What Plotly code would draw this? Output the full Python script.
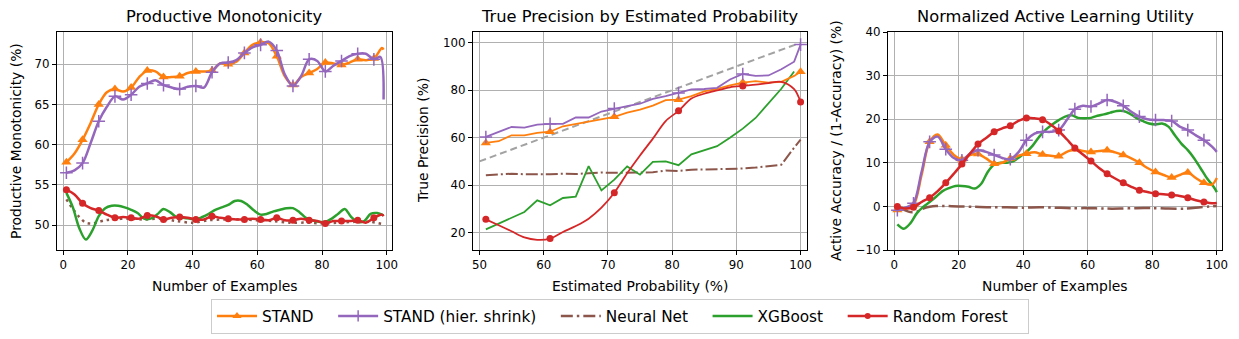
import plotly.graph_objects as go
from plotly.subplots import make_subplots

# %%
# Panel 1 - Productive Monotonicity
pm_x = [1, 3.5, 6, 8.5, 11, 13.5, 16, 18.5, 21, 23.5, 26, 28.5, 31, 33.5, 36, 38.5, 41, 43.5, 46, 48.5,
        51, 53.5, 56, 58.5, 61, 63.5, 66, 68.5, 71, 73.5, 76, 78.5, 81, 83.5, 86, 88.5, 91, 93.5, 96, 98.5, 99]
pm_stand = [57.8, 58.9, 60.6, 62.7, 65.0, 66.5, 66.9, 66.6, 67.1, 68.4, 69.2, 69.1, 68.4, 68.4, 68.5, 68.9, 69.1, 69.1, 69.2, 70.1,
            70.0, 70.3, 71.4, 72.4, 72.7, 72.6, 71.0, 68.5, 67.4, 68.4, 68.9, 69.4, 70.2, 70.1, 69.9, 70.2, 70.6, 70.5, 70.7, 72.0, 71.8]
pm_hier_x = [1, 3.5, 6, 8.5, 11, 13.5, 16, 18.5, 21, 23.5, 26, 28.5, 31, 33.5, 36, 38.5, 41, 43.5, 46, 48.5,
             51, 53.5, 56, 58.5, 61, 63.5, 66, 68.5, 71, 73.5, 76, 78.5, 81, 83.5, 86, 88.5, 91, 93.5, 96, 98, 99]
pm_hier = [56.5, 56.8, 57.7, 60.2, 62.9, 64.7, 66.0, 65.6, 66.2, 67.2, 67.6, 68.0, 67.4, 67.1, 66.9, 67.2, 67.3, 67.1, 69.0, 70.1,
           70.2, 70.5, 71.4, 72.1, 72.4, 72.8, 71.7, 68.7, 67.3, 68.5, 70.6, 70.4, 69.1, 69.8, 70.4, 71.0, 71.3, 71.3, 70.6, 70.9, 65.6]
pm_rf = [54.4, 53.8, 52.7, 52.1, 51.8, 51.3, 50.9, 51.0, 50.9, 50.8, 51.2, 51.1, 50.7, 50.9, 51.0, 50.9, 50.7, 50.7, 51.1, 50.9,
         50.8, 50.7, 50.7, 50.8, 50.7, 50.6, 50.9, 50.6, 50.6, 50.8, 50.6, 50.5, 50.2, 50.5, 50.5, 50.5, 50.6, 50.3, 50.9, 51.3, 51.1]
pm_xgb_x = [1, 3, 5, 7, 9, 11, 13, 15, 17, 19, 21, 23, 25, 27, 29, 31, 33, 35, 37, 39, 41, 43, 45, 47, 49,
            51, 53, 55, 57, 59, 61, 63, 65, 67, 69, 71, 73, 75, 77, 79, 81, 83, 85, 87, 89, 91, 93, 95, 97, 99]
pm_xgb = [54.0, 52.2, 49.6, 48.2, 49.3, 51.1, 52.1, 52.4, 52.4, 52.2, 51.9, 51.5, 50.8, 50.8, 51.3, 52.0, 51.6, 51.0, 50.9, 50.8,
          50.7, 51.0, 51.4, 51.9, 52.2, 52.5, 53.0, 53.0, 52.5, 51.8, 51.3, 51.4, 51.7, 51.9, 52.1, 52.1, 51.6, 50.9, 50.6, 50.4,
          50.4, 50.8, 51.4, 52.0, 51.0, 50.4, 50.5, 51.4, 51.5, 51.2]
pm_nn_x = [1, 3, 5, 7, 9, 11, 13, 15, 20, 25, 30, 35, 40, 45, 50, 55, 60, 65, 70, 75, 80, 85, 90, 95, 99]
pm_nn = [53.2, 52.0, 51.0, 50.3, 50.2, 50.4, 50.6, 50.7, 50.8, 50.7, 50.8, 50.5, 50.3, 50.6, 50.7, 50.7, 50.6, 50.5, 50.3, 50.3,
         50.2, 50.3, 50.4, 50.4, 50.1]
pm_chance = 50

# Panel 2 - True Precision by Estimated Probability
tp_x = [51, 53, 55, 57, 59, 61, 63, 65, 67, 69, 71, 73, 75, 77, 79, 81, 83, 85, 87, 89, 91, 93, 95, 97, 99, 100]
tp_stand = [57.8, 58.5, 61.0, 61.0, 62.0, 62.5, 64.8, 65.8, 67.0, 67.8, 68.8, 70.5, 71.8, 73.5, 75.8, 76.0, 77.5, 79.5, 80.5,
            82.0, 83.2, 83.8, 83.2, 83.5, 86.0, 87.8]
tp_hier = [60.3, 62.5, 64.5, 64.2, 65.5, 65.8, 65.8, 68.5, 68.5, 71.0, 72.3, 73.3, 74.3, 76.3, 77.5, 78.8, 80.3, 80.5, 81.0,
           84.5, 86.8, 86.0, 86.2, 88.8, 92.0, 99.2]
tp_rf = [25.6, 23.1, 20.6, 18.0, 17.0, 17.5, 20.3, 22.8, 25.9, 30.5, 36.8, 45.0, 52.5, 59.6, 67.0, 71.3, 76.5, 78.5, 79.9,
         81.2, 81.8, 82.3, 83.0, 83.5, 80.4, 75.0]
tp_xgb_x = [51, 53, 55, 57, 59, 61, 63, 65, 67, 69, 71, 73, 75, 77, 79, 81, 83, 85, 87, 89, 91, 93, 95, 97, 99]
tp_xgb = [21.4, 23.8, 26.3, 28.7, 33.6, 31.5, 34.6, 35.2, 48.0, 37.8, 42.3, 47.9, 44.4, 49.8, 50.0, 48.4, 53.0, 54.7, 56.4,
          60.0, 63.8, 68.3, 74.3, 80.6, 87.9]
tp_nn = [44.2, 44.5, 44.8, 44.6, 44.5, 44.6, 44.8, 44.7, 45.0, 45.3, 45.2, 45.3, 45.2, 45.4, 46.2, 46.0, 46.5, 46.6, 46.6,
         46.8, 47.0, 47.4, 48.0, 48.6, 55.8, 59.2]
tp_ideal_x = [50, 100]
tp_ideal_y = [50, 100]

# Panel 3 - Normalized Active Learning Utility
al_x = [1, 3.5, 6, 8.5, 11, 13.5, 16, 18.5, 21, 23.5, 26, 28.5, 31, 33.5, 36, 38.5, 41, 43.5, 46, 48.5,
        51, 53.5, 56, 58.5, 61, 63.5, 66, 68.5, 71, 73.5, 76, 78.5, 81, 83.5, 86, 88.5, 91, 93.5, 96, 98.5, 100]
al_stand = [-0.8, -0.5, 0.3, 7.2, 14.8, 16.5, 14.0, 11.8, 10.8, 11.8, 12.0, 11.0, 9.8, 10.0, 11.0, 11.6, 12.1, 12.4, 11.9, 11.6,
            11.5, 12.5, 13.1, 12.7, 12.5, 12.7, 12.9, 12.4, 11.8, 11.0, 10.0, 8.8, 7.9, 7.2, 6.6, 7.2, 7.8, 6.5, 5.4, 5.0, 6.5]
al_hier = [-0.9, -0.3, 0.7, 7.9, 14.8, 16.0, 13.1, 11.1, 10.6, 12.1, 12.9, 12.5, 11.8, 11.1, 10.8, 12.4, 15.2, 16.7, 17.1, 17.1,
           17.5, 19.8, 22.3, 23.1, 22.9, 23.6, 24.4, 24.0, 23.1, 21.7, 20.6, 20.0, 19.8, 19.8, 19.6, 18.3, 17.5, 16.3, 15.2, 13.7, 12.5]
al_rf = [0.0, -0.5, -0.2, 1.0, 2.0, 3.5, 5.4, 7.5, 9.7, 12.1, 14.3, 15.7, 17.1, 17.9, 18.5, 19.6, 20.3, 20.2, 19.9, 18.8,
         17.3, 15.4, 13.4, 11.9, 10.4, 8.8, 7.5, 6.4, 5.4, 4.5, 3.7, 3.3, 2.9, 2.8, 2.6, 2.4, 2.0, 1.4, 1.0, 0.7, 0.8]
al_xgb_x = [1, 3, 5, 7, 9, 11, 13, 15, 17, 19, 21, 23, 25, 27, 29, 31, 33, 35, 37, 39, 41, 43, 45, 47, 49,
            51, 53, 55, 57, 59, 61, 63, 65, 67, 69, 71, 73, 75, 77, 79, 81, 83, 85, 87, 89, 91, 93, 95, 97, 99, 100]
al_xgb = [-4.1, -5.1, -3.9, -1.6, -0.1, 1.0, 2.2, 3.5, 4.2, 4.7, 4.7, 4.5, 4.1, 5.2, 7.9, 9.6, 10.0, 10.0, 10.4, 11.4,
          12.5, 14.0, 16.0, 17.6, 18.8, 19.8, 20.6, 20.9, 20.3, 20.2, 20.3, 20.8, 21.1, 21.5, 21.9, 21.9, 21.3, 20.3, 19.6, 19.0,
          18.8, 19.0, 18.3, 16.3, 14.4, 12.9, 11.0, 8.7, 6.4, 4.5, 3.3]
al_nn_x = [1, 3, 5, 7, 9, 11, 13, 15, 20, 25, 30, 35, 40, 45, 50, 55, 60, 65, 70, 75, 80, 85, 90, 95, 100]
al_nn = [-0.3, -0.8, -1.3, -1.2, -0.5, -0.1, 0.1, 0.1, 0.0, -0.1, -0.2, -0.2, -0.3, -0.2, -0.3, -0.4, -0.4, -0.5, -0.5, -0.4,
         -0.4, -0.5, -0.5, -0.2, 0.1]

names = ["STAND", "STAND (hier. shrink)", "Neural Net", "XGBoost", "Random Forest"]

# %%
colors = {"STAND": "#ff7f0e", "STAND (hier. shrink)": "#9467bd", "Neural Net": "#8c564b",
          "XGBoost": "#2ca02c", "Random Forest": "#d62728"}
markers = {"STAND": dict(symbol="triangle-up", size=9),
           "STAND (hier. shrink)": dict(symbol="cross-thin", size=9, line=dict(width=1.5, color="#9467bd")),
           "Random Forest": dict(symbol="circle", size=7)}


def every5(xs):
    # markers on examples 1, 6, 11, ... 96
    return [i for i, v in enumerate(xs) if float(v).is_integer() and (v - 1) % 5 == 0 and v <= 96]


fig = make_subplots(rows=1, cols=3)


def add(name, x, y, col, lw, dash="solid", smooth=True, mark_idx=None):
    fig.add_trace(go.Scatter(x=x, y=y, mode="lines", showlegend=False,
                             line=dict(color=colors[name], width=lw, dash=dash,
                                       shape="spline" if smooth else "linear", smoothing=0.9),
                             hoverinfo="skip"), row=1, col=col)
    if mark_idx is not None and name in markers:
        m = dict(markers[name])
        m["color"] = colors[name]
        fig.add_trace(go.Scatter(x=[x[i] for i in mark_idx], y=[y[i] for i in mark_idx], mode="markers",
                                 marker=m, showlegend=False, hoverinfo="skip"), row=1, col=col)


gray = "#a2a2a2"
dash_gray = "7px,4px"

# panel 1
fig.add_hline(y=pm_chance, line=dict(color=gray, width=2, dash=dash_gray), row=1, col=1)
add("Neural Net", pm_nn_x, pm_nn, 1, 2.5, dash="2.5px,4px")
add("XGBoost", pm_xgb_x, pm_xgb, 1, 2.5)
add("STAND", pm_x, pm_stand, 1, 2.5, mark_idx=every5(pm_x))
add("STAND (hier. shrink)", pm_hier_x, pm_hier, 1, 2.5, mark_idx=every5(pm_hier_x))
add("Random Forest", pm_x, pm_rf, 1, 2.5, mark_idx=every5(pm_x))

# panel 2
fig.add_trace(go.Scatter(x=tp_ideal_x, y=tp_ideal_y, mode="lines", showlegend=False, hoverinfo="skip",
                         line=dict(color=gray, width=2, dash=dash_gray)), row=1, col=2)
tp_marks = list(range(0, len(tp_x), 5))
add("Neural Net", tp_x, tp_nn, 2, 2, dash="12px,3px,2px,3px", smooth=False)
add("XGBoost", tp_xgb_x, tp_xgb, 2, 1.8, smooth=False)
add("STAND", tp_x, tp_stand, 2, 1.8, smooth=False, mark_idx=tp_marks)
add("STAND (hier. shrink)", tp_x, tp_hier, 2, 1.8, smooth=False, mark_idx=tp_marks)
add("Random Forest", tp_x, tp_rf, 2, 1.8, smooth=True, mark_idx=tp_marks)

# panel 3
add("Neural Net", al_nn_x, al_nn, 3, 2.5, dash="16px,4px,2.5px,4px")
add("XGBoost", al_xgb_x, al_xgb, 3, 2.5)
add("STAND", al_x, al_stand, 3, 2.5, mark_idx=every5(al_x))
add("STAND (hier. shrink)", al_x, al_hier, 3, 2.5, mark_idx=every5(al_x))
add("Random Forest", al_x, al_rf, 3, 2.5, mark_idx=every5(al_x))

# legend entries (name padded a bit so entries spread like the original legend)
for n in names:
    mk = dict(markers.get(n, dict(size=1, opacity=0)))
    mk["color"] = colors[n]
    if n in markers:
        mk["size"] = 8 if n != "Random Forest" else 6
    fig.add_trace(go.Scatter(x=[None], y=[None], name=n + "\u00a0\u00a0\u00a0",
                             mode="lines+markers" if n in markers else "lines",
                             line=dict(color=colors[n], width=2.5,
                                       dash="12px,4px,2.5px,4px" if n == "Neural Net" else "solid"),
                             marker=mk), row=1, col=1)

# page has an 8px body margin: the figure is drawn 8px smaller and positions shifted by 8px
OFF = 8
W, H = 1239 - OFF, 339 - OFF


def px(v):
    return (v - OFF) / W


def py(v):
    return 1 - (v - OFF) / H


ax = dict(showline=True, linecolor="black", linewidth=1, mirror=True, ticks="outside", ticklen=4,
          tickcolor="black", showgrid=True, gridcolor="#b0b0b0", gridwidth=1, zeroline=False,
          tickfont=dict(size=11.8, color="black"))
fig.update_xaxes(**ax)
fig.update_yaxes(**ax)
ydom = [py(250), py(32)]
fig.update_layout(
    width=W, height=H, margin=dict(l=0, r=0, t=0, b=0),
    plot_bgcolor="white", paper_bgcolor="white", template=None,
    font=dict(family="DejaVu Sans", color="black"),
    xaxis=dict(domain=[px(57), px(392)], range=[-1.9, 101.6], tickvals=[0, 20, 40, 60, 80, 100]),
    yaxis=dict(domain=ydom, range=[46.9, 74.0], tickvals=[50, 55, 60, 65, 70]),
    xaxis2=dict(domain=[px(473), px(807)], range=[49.0, 101.0], tickvals=[50, 60, 70, 80, 90, 100]),
    yaxis2=dict(domain=ydom, range=[12.7, 104.5], tickvals=[20, 40, 60, 80, 100]),
    xaxis3=dict(domain=[px(888), px(1222)], range=[-1.9, 101.6], tickvals=[0, 20, 40, 60, 80, 100]),
    yaxis3=dict(domain=ydom, range=[-10, 40], tickvals=[-10, 0, 10, 20, 30, 40]),
    legend=dict(orientation="h", x=px(620), xanchor="center", y=py(316), yanchor="middle",
                bordercolor="#cccccc", borderwidth=1, bgcolor="white", font=dict(size=15.3), itemwidth=40),
)

titles = [("Productive Monotonicity", 224.5), ("True Precision by Estimated Probability", 640),
          ("Normalized Active Learning Utility", 1055)]
for t, cx in titles:
    fig.add_annotation(text=t, x=px(cx), y=py(17), xref="paper", yref="paper", showarrow=False,
                       xanchor="center", yanchor="middle", font=dict(size=16.3))
for t, cx in [("Number of Examples", 224.5), ("Estimated Probability (%)", 640), ("Number of Examples", 1055)]:
    fig.add_annotation(text=t, x=px(cx), y=py(286), xref="paper", yref="paper", showarrow=False,
                       xanchor="center", yanchor="middle", font=dict(size=13.9))
for t, cx in [("Productive Monotonicity (%)", 16), ("True Precision (%)", 423),
              ("Active Accuracy / (1-Accuracy) (%)", 836)]:
    fig.add_annotation(text=t, x=px(cx), y=py(141), xref="paper", yref="paper", showarrow=False,
                       xanchor="center", yanchor="middle", textangle=-90, font=dict(size=13.9))

fig.write_html("out.html")
